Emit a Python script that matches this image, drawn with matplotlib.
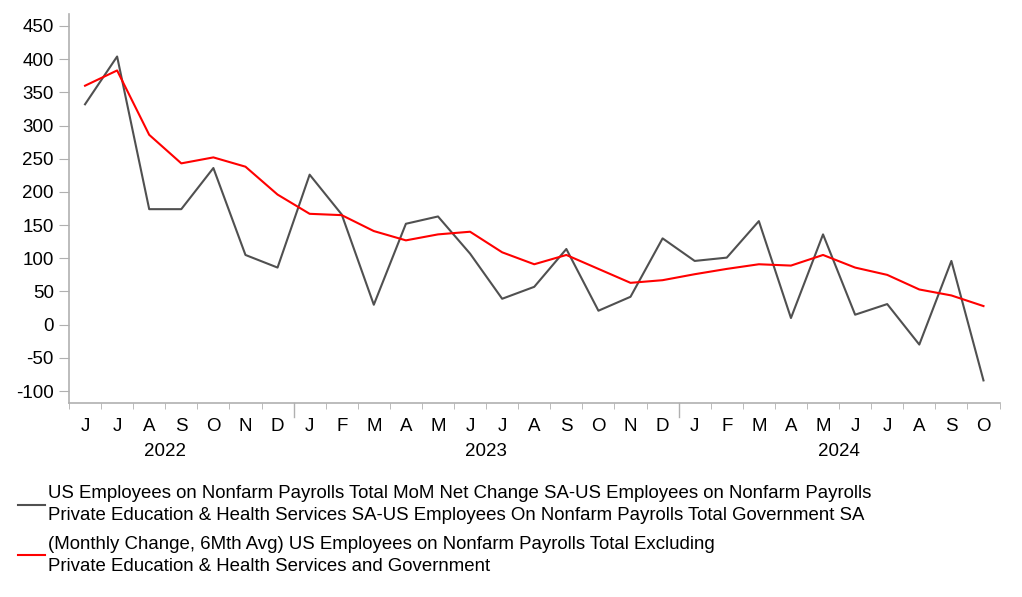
import matplotlib
matplotlib.use("Agg")
import matplotlib.pyplot as plt
import matplotlib.transforms as mtrans
import numpy as np

plt.rcParams['font.family'] = ['Liberation Sans', 'DejaVu Sans']
plt.rcParams['axes.unicode_minus'] = False

# Jun 2022 .. Oct 2024
months = ["J", "J", "A", "S", "O", "N", "D",
          "J", "F", "M", "A", "M", "J", "J", "A", "S", "O", "N", "D",
          "J", "F", "M", "A", "M", "J", "J", "A", "S", "O"]
years = ["2022", "2023", "2024"]
year_pos = [2.5, 12.5, 23.5]
year_breaks = [6.5, 18.5]

# MoM net change minus education/health and government
net_change = [332, 404, 174, 174, 236, 105, 86,
              226, 166, 30, 152, 163, 107, 39, 57, 114, 21, 42, 130,
              96, 101, 156, 10, 136, 15, 31, -30, 96, -84]
# 6 month average of the same
avg_6m = [360, 383, 286, 243, 252, 238, 196,
          167, 165, 141, 127, 136, 140, 109, 91, 105, 84, 63, 67,
          76, 84, 91, 89, 105, 86, 75, 53, 44, 28]

lab1 = ("US Employees on Nonfarm Payrolls Total MoM Net Change SA-US Employees on Nonfarm Payrolls\n"
        "Private Education & Health Services SA-US Employees On Nonfarm Payrolls Total Government SA")
lab2 = ("(Monthly Change, 6Mth Avg) US Employees on Nonfarm Payrolls Total Excluding\n"
        "Private Education & Health Services and Government")

fig = plt.figure(figsize=(10.22, 5.97), dpi=100)
ax = fig.add_axes([0.0675, 0.325, 0.978 - 0.0675, 0.9765 - 0.325])

x = np.arange(len(months))
l1, = ax.plot(x, net_change, color="#505050", lw=1.5)
l2, = ax.plot(x, avg_6m, color="#ff0000", lw=1.5)

ax.set_xlim(-0.5, len(months) - 0.5)
ax.set_ylim(-118, 468)
ax.set_yticks(np.arange(-100, 451, 50))
ax.tick_params(axis="y", labelsize=13.5, length=7, color="#b0b0b0", pad=4)

ax.set_xticks(x)
ax.set_xticklabels(months)
ax.tick_params(axis="x", which="major", length=0, labelsize=13.5, pad=11)
ax.set_xticks(np.arange(-0.5, len(months), 1), minor=True)
ax.tick_params(axis="x", which="minor", length=4, color="#b0b0b0")
for b in year_breaks:
    ax.plot([b, b], [0, -0.035], transform=ax.get_xaxis_transform(),
            color="#b0b0b0", lw=1, clip_on=False)

tr = mtrans.blended_transform_factory(ax.transData, ax.transAxes)
for yl, xp in zip(years, year_pos):
    ax.text(xp, -0.125, yl, transform=tr, ha="center", va="center", fontsize=13.5)

for s in ["top", "right"]:
    ax.spines[s].set_visible(False)
for s in ["left", "bottom"]:
    ax.spines[s].set_color("#b0b0b0")
    ax.spines[s].set_linewidth(1.2)

leg = fig.legend([l1, l2], [lab1, lab2], loc="upper left", bbox_to_anchor=(0.010, 0.2),
                 frameon=False, fontsize=13.4, handlelength=1.45, handletextpad=0.17,
                 labelspacing=0.62, borderaxespad=0)
for t in leg.get_texts():
    t.set_linespacing(1.4)

fig.savefig("out.png", dpi=100)
